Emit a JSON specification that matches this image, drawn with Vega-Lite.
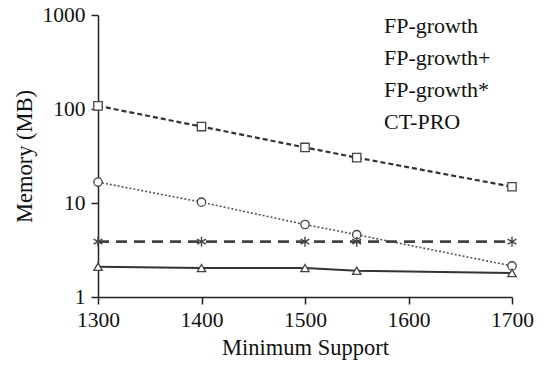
{
  "$schema": "https://vega.github.io/schema/vega-lite/v6.json",
  "autosize": "none",
  "padding": {"left": 98, "top": 15, "right": 32, "bottom": 70},
  "width": 414,
  "height": 282,
  "background": "white",
  "config": {
    "view": {"stroke": null},
    "font": "Liberation Serif",
    "axis": {
      "grid": false,
      "labelFlush": false,
      "domainColor": "#222",
      "domainWidth": 1.5,
      "tickColor": "#222",
      "tickWidth": 1.5,
      "tickSize": 7,
      "labelFont": "Liberation Serif",
      "labelFontSize": 21.5,
      "labelColor": "#111",
      "titleFont": "Liberation Serif",
      "titleFontSize": 22.5,
      "titleFontWeight": "normal",
      "titleColor": "#111"
    },
    "legend": {
      "labelFont": "Liberation Serif",
      "labelFontSize": 22,
      "labelColor": "#111",
      "symbolOpacity": 1
    }
  },
  "data": {
    "values": [
      {"series": "FP-growth", "support": 1300, "memory": 16.7},
      {"series": "FP-growth", "support": 1400, "memory": 10.2},
      {"series": "FP-growth", "support": 1500, "memory": 5.9},
      {"series": "FP-growth", "support": 1550, "memory": 4.6},
      {"series": "FP-growth", "support": 1700, "memory": 2.14},
      {"series": "FP-growth+", "support": 1300, "memory": 2.1},
      {"series": "FP-growth+", "support": 1400, "memory": 2.03},
      {"series": "FP-growth+", "support": 1500, "memory": 2.03},
      {"series": "FP-growth+", "support": 1550, "memory": 1.9},
      {"series": "FP-growth+", "support": 1700, "memory": 1.8},
      {"series": "FP-growth*", "support": 1300, "memory": 3.88},
      {"series": "FP-growth*", "support": 1400, "memory": 3.88},
      {"series": "FP-growth*", "support": 1500, "memory": 3.88},
      {"series": "FP-growth*", "support": 1550, "memory": 3.88},
      {"series": "FP-growth*", "support": 1700, "memory": 3.88},
      {"series": "CT-PRO", "support": 1300, "memory": 108},
      {"series": "CT-PRO", "support": 1400, "memory": 65},
      {"series": "CT-PRO", "support": 1500, "memory": 39},
      {"series": "CT-PRO", "support": 1550, "memory": 30.4},
      {"series": "CT-PRO", "support": 1700, "memory": 14.9}
    ]
  },
  "encoding": {
    "x": {
      "field": "support", "type": "quantitative",
      "scale": {"domain": [1300, 1700], "nice": false, "zero": false},
      "axis": {"values": [1300, 1400, 1500, 1600, 1700], "format": "d", "title": "Minimum Support", "labelPadding": 5, "titlePadding": 6}
    },
    "y": {
      "field": "memory", "type": "quantitative",
      "scale": {"type": "log", "domain": [1, 1000], "nice": false},
      "axis": {"values": [1, 10, 100, 1000], "format": "d", "title": "Memory (MB)", "labelPadding": 6, "titlePadding": 6}
    }
  },
  "layer": [
    {
      "transform": [{"filter": "datum.series === 'FP-growth'"}],
      "layer": [
        {"mark": {"type": "line", "color": "#555555", "strokeDash": [2, 2], "strokeWidth": 1.6, "clip": false}, "encoding": {}},
        {"mark": {"type": "point", "shape": "circle", "filled": false, "fill": "white", "stroke": "#444444", "strokeWidth": 1.3, "size": 70, "opacity": 1, "clip": false}, "encoding": {}}
      ]
    },
    {
      "transform": [{"filter": "datum.series === 'FP-growth+'"}],
      "layer": [
        {"mark": {"type": "line", "color": "#333333", "strokeWidth": 2, "clip": false}, "encoding": {}},
        {"mark": {"type": "point", "shape": "triangle-up", "filled": false, "fill": "white", "stroke": "#444444", "strokeWidth": 1.3, "size": 70, "opacity": 1, "clip": false}, "encoding": {}}
      ]
    },
    {
      "transform": [{"filter": "datum.series === 'FP-growth*'"}],
      "layer": [
        {"mark": {"type": "line", "color": "#444444", "strokeDash": [11, 7], "strokeWidth": 2.6, "clip": false}, "encoding": {}},
        {"mark": {"type": "point", "shape": "M0,-1.2L0,1.2M-1.05,-0.6L1.05,0.6M-1.05,0.6L1.05,-0.6", "filled": false, "fill": "white", "stroke": "#444444", "strokeWidth": 1.4, "size": 70, "opacity": 1, "clip": false}, "encoding": {}}
      ]
    },
    {
      "transform": [{"filter": "datum.series === 'CT-PRO'"}],
      "layer": [
        {"mark": {"type": "line", "color": "#333333", "strokeDash": [5, 3], "strokeWidth": 2.2, "clip": false}, "encoding": {}},
        {"mark": {"type": "point", "shape": "square", "filled": false, "fill": "white", "stroke": "#444444", "strokeWidth": 1.3, "size": 70, "opacity": 1, "clip": false}, "encoding": {}}
      ]
    },
    {
      "mark": {"type": "point", "filled": false, "fill": "white", "stroke": "#333333", "strokeWidth": 1.8, "opacity": 1, "size": 70, "clip": false},
      "encoding": {
        "opacity": {"value": 0},
        "shape": {
          "field": "series", "type": "nominal",
          "scale": {
            "domain": ["FP-growth", "FP-growth+", "FP-growth*", "CT-PRO"],
            "range": [
              "M-1,0H-0.92M-0.84,0H-0.76M-0.68,0H-0.6M-0.52,0H-0.44M-0.36,0H-0.28M0.28,0H0.36M0.44,0H0.52M0.6,0H0.68M0.76,0H0.84M0.92,0H1M0.18,0A0.18,0.18 0 1,1 -0.18,0A0.18,0.18 0 1,1 0.18,0Z",
              "M-1,0L1,0M0,-0.2L0.2,0.15L-0.2,0.15Z",
              "M-1,0H-0.6M0.6,0H1M0,-0.2L0,0.2M-0.17,-0.1L0.17,0.1M-0.17,0.1L0.17,-0.1",
              "M-1,0H-0.8M-0.62,0H-0.3M0.3,0H0.62M0.8,0H1M-0.17,-0.17H0.17V0.17H-0.17Z"
            ]
          },
          "legend": {
            "title": null,
            "orient": "none",
            "legendX": 240,
            "legendY": -10,
            "labelOffset": 5,
            "rowPadding": -6,
            "symbolSize": 1521,
            "symbolOpacity": 1,
            "symbolStrokeColor": "#333333",
            "symbolFillColor": "white",
            "symbolStrokeWidth": 1.8
          }
        }
      }
    }
  ]
}
